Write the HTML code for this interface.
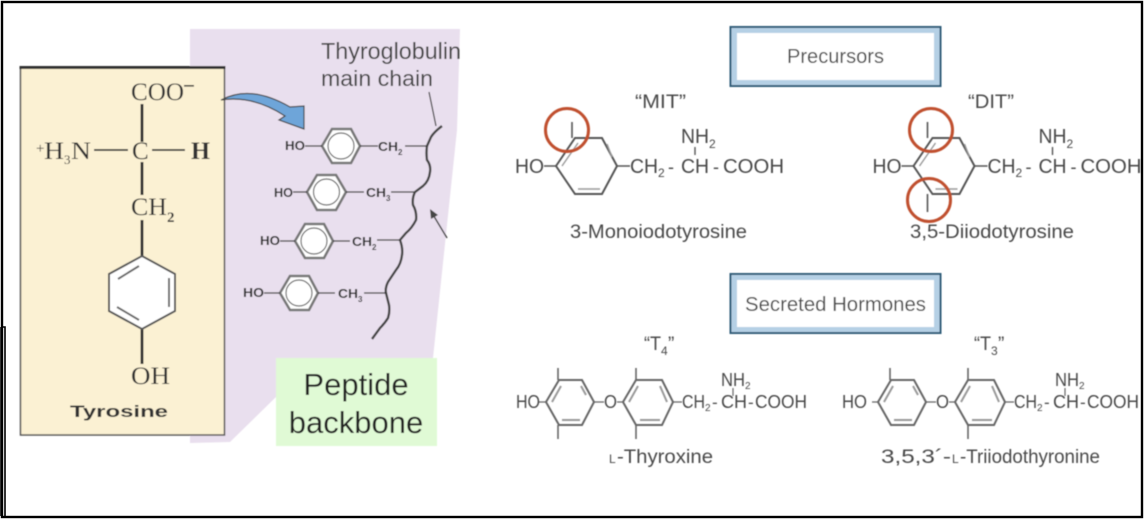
<!DOCTYPE html>
<html>
<head>
<meta charset="utf-8">
<style>
html,body{margin:0;padding:0;background:#fff;width:1144px;height:520px;overflow:hidden}
svg{display:block}
.s{font-family:"Liberation Sans",sans-serif}
.r{font-family:"Liberation Serif",serif}
.g text{font-family:"Liberation Sans",sans-serif;fill:#484848}
</style>
</head>
<body>
<svg width="1144" height="520" viewBox="0 0 1144 520" xmlns="http://www.w3.org/2000/svg">
<defs>
<filter id="b1" x="-5%" y="-5%" width="110%" height="110%"><feGaussianBlur stdDeviation="0.5"/></filter>
<filter id="b2" x="-5%" y="-5%" width="110%" height="110%"><feGaussianBlur stdDeviation="0.65"/></filter>
</defs>
<rect width="1144" height="520" fill="#fff"/>

<!-- left panel -->
<g filter="url(#b1)">
<polygon points="190,29 460,29 457,130 433,358 276,358 276,397 230,442 190,443" fill="#e9dfee"/>
<rect x="20.5" y="67" width="204" height="368" fill="#fbf1d3" stroke="#555" stroke-width="1.5"/>
<rect x="19.5" y="66" width="206" height="3" fill="#333"/>

<g class="r" fill="#333" stroke="none">
<text x="131" y="100" font-size="25" textLength="53" lengthAdjust="spacingAndGlyphs">COO</text>
<rect x="184" y="85" width="10" height="1.6" fill="#333"/>
<text x="36" y="153" font-size="15">+</text>
<text x="44" y="159" font-size="25" textLength="20" lengthAdjust="spacingAndGlyphs">H</text>
<text x="64" y="164" font-size="13">3</text>
<text x="71" y="159" font-size="25" textLength="20" lengthAdjust="spacingAndGlyphs">N</text>
<text x="132" y="159" font-size="25">C</text>
<text x="191" y="159" font-size="25" font-weight="bold" textLength="19" lengthAdjust="spacingAndGlyphs">H</text>
<text x="131" y="215" font-size="25" textLength="36" lengthAdjust="spacingAndGlyphs">CH</text>
<text x="167" y="222" font-size="15" font-weight="bold">2</text>
<text x="131" y="384" font-size="25" textLength="39" lengthAdjust="spacingAndGlyphs">OH</text>
</g>
<g stroke="#333" fill="none">
<path d="M142 104V142M142 162V195M142 220V256M142 329V364" stroke-width="3"/>
<path d="M94 150H128M152 150H185" stroke-width="1.8"/>
</g>
<polygon points="142,256 175,274 175,311 142,329 109,311 109,274" fill="#fff" stroke="#555" stroke-width="2"/>
<path d="M118 279L139 266M169 278V307M117 307L139 320" stroke="#666" stroke-width="2" fill="none"/>
<text x="70" y="417" class="s" font-size="17" font-weight="bold" fill="#333" textLength="98" lengthAdjust="spacingAndGlyphs">Tyrosine</text>

<!-- blue arrow -->
<path d="M221 100C240 90 262 91 290 107L304 106L304 129L279 120L285 116C262 101 240 97 221 100Z" fill="#6ea5d9" stroke="#444" stroke-width="1.2"/>

<text x="321" y="59" class="s" font-size="23" fill="#444" textLength="140" lengthAdjust="spacingAndGlyphs">Thyroglobulin</text>
<text x="321" y="86" class="s" font-size="22" fill="#444" textLength="112" lengthAdjust="spacingAndGlyphs">main chain</text>
<path d="M429 92L436 126" stroke="#444" stroke-width="1.3" fill="none"/>
<path d="M442 126Q434 132 431 137L427 146Q426 153 427 160Q431 165 430 172Q429 181 423 186L415 192Q412 198 413 205Q417 212 416 220Q412 228 406 233L400 240Q403 248 402 255Q401 264 396 270L388 282Q385 288 386 293L389 305Q390 312 388 318Q385 323 380 328L372 339" stroke="#444" stroke-width="2.4" fill="none"/>
<path d="M447 238L432 213" stroke="#444" stroke-width="1.5" fill="none"/>
<path d="M430 209L438 215L431 219Z" fill="#444"/>

<g fill="#fff" stroke="#777" stroke-width="2.6">
<polygon points="322,146 332,129 351,129 360,146 351,163 332,163"/>
<polygon points="307,192 317,175 336,175 346,192 336,210 317,210"/>
<polygon points="295,241 305,224 324,224 333,241 324,258 305,258"/>
<polygon points="280,293 290,276 309,276 318,293 309,310 290,310"/>
</g>
<g fill="none" stroke="#666" stroke-width="1.2">
<circle cx="341" cy="146" r="13"/><circle cx="326.500" cy="192" r="13"/><circle cx="314" cy="241" r="13"/><circle cx="299" cy="293" r="13"/>
</g>
<path d="M305 146H322M360 146H378M405 146H427M293 192H307M346 192H364M391 192H414M280 241H295M333 241H350M377 240H400M264 293H280M318 293H335M364 293H387" stroke="#333" stroke-width="1.3" fill="none"/>
<g class="s" fill="#333" font-size="13" font-weight="bold">
<text x="285" y="150" textLength="20" lengthAdjust="spacingAndGlyphs">HO</text>
<text x="378" y="151" textLength="20" lengthAdjust="spacingAndGlyphs">CH</text><text x="398" y="155" font-size="8">2</text>
<text x="274" y="197" textLength="19" lengthAdjust="spacingAndGlyphs">HO</text>
<text x="366" y="197" textLength="20" lengthAdjust="spacingAndGlyphs">CH</text><text x="386" y="201" font-size="8">3</text>
<text x="260" y="245" textLength="20" lengthAdjust="spacingAndGlyphs">HO</text>
<text x="352" y="246" textLength="20" lengthAdjust="spacingAndGlyphs">CH</text><text x="372" y="250" font-size="8">2</text>
<text x="243" y="297" textLength="21" lengthAdjust="spacingAndGlyphs">HO</text>
<text x="338" y="298" textLength="20" lengthAdjust="spacingAndGlyphs">CH</text><text x="358" y="302" font-size="8">3</text>
</g>

<rect x="276" y="358" width="161" height="88" fill="#e0fad5"/>
<text x="356" y="395" class="s" font-size="31" fill="#222" text-anchor="middle">Peptide</text>
<text x="356" y="433" class="s" font-size="31" fill="#222" text-anchor="middle">backbone</text>
</g>

<!-- right panel -->
<g filter="url(#b2)" class="g">
<rect x="730.500" y="27" width="210" height="59" fill="#b5d0e5" stroke="#2f5b78" stroke-width="2"/>
<rect x="737" y="33" width="197" height="47" fill="#fff"/>
<text x="787" y="63" font-size="20" textLength="97" lengthAdjust="spacingAndGlyphs">Precursors</text>

<rect x="730.500" y="274" width="210" height="59" fill="#b5d0e5" stroke="#2f5b78" stroke-width="2"/>
<rect x="737" y="280" width="197" height="47" fill="#fff"/>
<text x="745" y="311" font-size="20" textLength="181" lengthAdjust="spacingAndGlyphs">Secreted Hormones</text>

<!-- MIT -->
<text x="635" y="108" font-size="19" textLength="51" lengthAdjust="spacingAndGlyphs">“MIT”</text>
<polygon points="556,166 575,138 602,138 617,166 602,194 575,194" fill="none" stroke="#555" stroke-width="2"/>
<path d="M562 166L578 143M607 144L612 157M578 189H600" stroke="#999" stroke-width="1.4" fill="none"/>
<path d="M544 166H556M617 166H630M695 147V155" stroke="#555" stroke-width="1.4" fill="none"/>
<text x="515" y="173" font-size="20" textLength="29" lengthAdjust="spacingAndGlyphs">HO</text>
<text x="630" y="173" font-size="20" textLength="28" lengthAdjust="spacingAndGlyphs">CH</text>
<text x="658" y="177" font-size="12">2</text>
<text x="668" y="173" font-size="18">-</text>
<text x="681" y="173" font-size="20" textLength="28" lengthAdjust="spacingAndGlyphs">CH</text>
<text x="713" y="173" font-size="18">-</text>
<text x="723" y="173" font-size="20" textLength="61" lengthAdjust="spacingAndGlyphs">COOH</text>
<text x="681" y="143" font-size="20" textLength="28" lengthAdjust="spacingAndGlyphs">NH</text>
<text x="709" y="148" font-size="12">2</text>
<path d="M572 122V138" stroke="#555" stroke-width="1.6"/>
<circle cx="567" cy="130" r="21.500" fill="none" stroke="#c0502f" stroke-width="3"/>
<text x="570" y="238" font-size="19" textLength="177" lengthAdjust="spacingAndGlyphs">3-Monoiodotyrosine</text>

<!-- DIT -->
<text x="968" y="108" font-size="19" textLength="46" lengthAdjust="spacingAndGlyphs">“DIT”</text>
<g transform="translate(357.500 0)">
<polygon points="556,166 575,138 602,138 617,166 602,194 575,194" fill="none" stroke="#555" stroke-width="2"/>
<path d="M562 166L578 143M607 144L612 157M578 189H600" stroke="#999" stroke-width="1.4" fill="none"/>
<path d="M544 166H556M617 166H630M695 147V155" stroke="#555" stroke-width="1.4" fill="none"/>
<text x="515" y="173" font-size="20" textLength="29" lengthAdjust="spacingAndGlyphs">HO</text>
<text x="630" y="173" font-size="20" textLength="28" lengthAdjust="spacingAndGlyphs">CH</text>
<text x="658" y="177" font-size="12">2</text>
<text x="668" y="173" font-size="18">-</text>
<text x="681" y="173" font-size="20" textLength="28" lengthAdjust="spacingAndGlyphs">CH</text>
<text x="713" y="173" font-size="18">-</text>
<text x="723" y="173" font-size="20" textLength="61" lengthAdjust="spacingAndGlyphs">COOH</text>
<text x="681" y="143" font-size="20" textLength="28" lengthAdjust="spacingAndGlyphs">NH</text>
<text x="709" y="148" font-size="12">2</text>
</g>
<path d="M927.500 122V138M927.500 194V212" stroke="#555" stroke-width="1.6"/>
<circle cx="931" cy="130" r="21.500" fill="none" stroke="#c0502f" stroke-width="3"/>
<circle cx="929" cy="200" r="21.500" fill="none" stroke="#c0502f" stroke-width="3"/>
<text x="910" y="238" font-size="19" textLength="164" lengthAdjust="spacingAndGlyphs">3,5-Diiodotyrosine</text>

<!-- T4 -->
<text x="644" y="350" font-size="19" textLength="17" lengthAdjust="spacingAndGlyphs">“T</text>
<text x="661" y="355" font-size="12">4</text>
<text x="668" y="350" font-size="19">”</text>
<g fill="none" stroke="#666" stroke-width="2">
<polygon points="546,402 559,380 582,380 594,402 582,425 559,425"/>
<polygon points="623,402 636,380 662,380 673,402 662,425 636,425"/>
<path d="M552 402L561 386M586 395L581 386M562 420H580M629 402L638 386M667 402L660 386M640 420H660" stroke="#999"/>
<path d="M558 368V380M558 425V439M636 368V380M636 425V439" stroke-width="1.6"/>
<path d="M539 402H546M594 402H604M617 402H623M673 402H682M733 388V396" stroke-width="1.2"/>
</g>
<text x="516" y="408" font-size="18" textLength="24" lengthAdjust="spacingAndGlyphs">HO</text>
<text x="604" y="408" font-size="18" textLength="13" lengthAdjust="spacingAndGlyphs">O</text>
<text x="682" y="408" font-size="18" textLength="23" lengthAdjust="spacingAndGlyphs">CH</text>
<text x="705" y="411" font-size="10">2</text>
<text x="712" y="408" font-size="17">-</text>
<text x="721" y="408" font-size="18" textLength="26" lengthAdjust="spacingAndGlyphs">CH</text>
<text x="748" y="408" font-size="17">-</text>
<text x="755" y="408" font-size="18" textLength="52" lengthAdjust="spacingAndGlyphs">COOH</text>
<text x="721" y="386" font-size="18" textLength="24" lengthAdjust="spacingAndGlyphs">NH</text>
<text x="745" y="389" font-size="10">2</text>
<text x="609" y="463" font-size="12">L</text>
<text x="617" y="463" font-size="19" textLength="96" lengthAdjust="spacingAndGlyphs">-Thyroxine</text>

<!-- T3 -->
<text x="974" y="350" font-size="19" textLength="17" lengthAdjust="spacingAndGlyphs">“T</text>
<text x="991" y="355" font-size="12">3</text>
<text x="998" y="350" font-size="19">”</text>
<g transform="translate(332 0)" fill="none" stroke="#666" stroke-width="2">
<polygon points="546,402 559,380 582,380 594,402 582,425 559,425"/>
<polygon points="623,402 636,380 662,380 673,402 662,425 636,425"/>
<path d="M552 402L561 386M586 395L581 386M562 420H580M629 402L638 386M667 402L660 386M640 420H660" stroke="#999"/>
<path d="M558 368V380M636 368V380M636 425V439" stroke-width="1.6"/>
<path d="M540 402H546M594 402H604M617 402H623M673 402H682M733 388V396" stroke-width="1.2"/>
</g>
<text x="842" y="408" font-size="18" textLength="25" lengthAdjust="spacingAndGlyphs">HO</text>
<text x="936" y="408" font-size="18" textLength="13" lengthAdjust="spacingAndGlyphs">O</text>
<text x="1014" y="408" font-size="18" textLength="23" lengthAdjust="spacingAndGlyphs">CH</text>
<text x="1037" y="411" font-size="10">2</text>
<text x="1044" y="408" font-size="17">-</text>
<text x="1053" y="408" font-size="18" textLength="26" lengthAdjust="spacingAndGlyphs">CH</text>
<text x="1080" y="408" font-size="17">-</text>
<text x="1087" y="408" font-size="18" textLength="52" lengthAdjust="spacingAndGlyphs">COOH</text>
<text x="1055" y="386" font-size="18" textLength="24" lengthAdjust="spacingAndGlyphs">NH</text>
<text x="1079" y="389" font-size="10">2</text>
<text x="881" y="463" font-size="19" textLength="70" lengthAdjust="spacingAndGlyphs">3,5,3´-</text>
<text x="952" y="463" font-size="12">L</text>
<text x="960" y="463" font-size="19" textLength="140" lengthAdjust="spacingAndGlyphs">-Triiodothyronine</text>
</g>

<!-- outer frame -->
<rect x="2" y="2" width="1140" height="515" fill="none" stroke="#000" stroke-width="2.4"/>
<path d="M1 327H5V516M1 327V516" fill="none" stroke="#000" stroke-width="1.6"/>
</svg>
</body>
</html>
